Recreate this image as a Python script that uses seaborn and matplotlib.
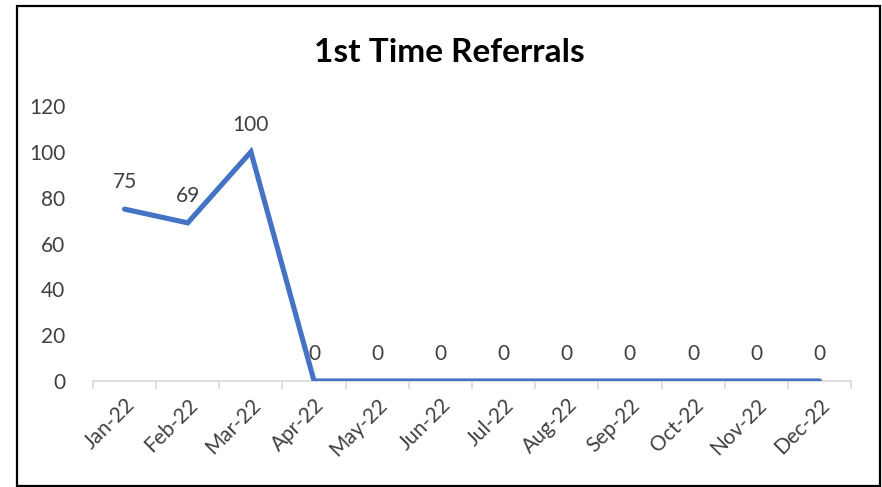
import matplotlib
matplotlib.use('Agg')
import matplotlib.pyplot as plt
from matplotlib.patches import Rectangle
from matplotlib.ticker import FixedLocator
import pandas as pd
import seaborn as sns

months = ['Jan-22', 'Feb-22', 'Mar-22', 'Apr-22', 'May-22', 'Jun-22',
          'Jul-22', 'Aug-22', 'Sep-22', 'Oct-22', 'Nov-22', 'Dec-22']
referrals = [75, 69, 100, 0, 0, 0, 0, 0, 0, 0, 0, 0]
y_ticks = [0, 20, 40, 60, 80, 100, 120]

LINE_BLUE = '#4472C4'
TEXT_GREY = '#404040'

sns.set_theme(style='white')
plt.rcParams['font.family'] = ['Lato', 'DejaVu Sans']

df = pd.DataFrame({'month': months, 'referrals': referrals})

fig = plt.figure(figsize=(8.82, 4.87), dpi=100)
ax = fig.add_axes([0.1054, 0.2177, 0.8595, 0.5646])

sns.lineplot(data=df, x='month', y='referrals', ax=ax, color=LINE_BLUE,
             linewidth=3.7, solid_joinstyle='miter', sort=False)

# data labels above each point
for i, v in enumerate(referrals):
    ax.annotate(str(v), (i, v), xytext=(0, 12), textcoords='offset points',
                ha='center', va='bottom', fontsize=15, color=TEXT_GREY)

ax.set_xlim(-0.5, len(months) - 0.5)
ax.set_ylim(0, 120)
ax.set_yticks(y_ticks)
ax.set_yticklabels([str(t) for t in y_ticks], fontsize=15, color=TEXT_GREY)
ax.set_xticks(range(len(months)))
ax.set_xticklabels(months, rotation=45, ha='right', rotation_mode='anchor',
                   fontsize=15, color=TEXT_GREY)
ax.xaxis.set_minor_locator(FixedLocator([i - 0.5 for i in range(len(months) + 1)]))
ax.tick_params(axis='x', which='major', length=0, pad=10)
ax.tick_params(axis='x', which='minor', length=6, width=1.2, color='#D9D9D9',
               direction='out', bottom=True)
ax.tick_params(axis='y', length=0, pad=20)
ax.set_xlabel('')
ax.set_ylabel('')

for side in ['left', 'right', 'top']:
    ax.spines[side].set_visible(False)
ax.spines['bottom'].set_color('#D9D9D9')
ax.spines['bottom'].set_linewidth(1.2)
ax.spines['bottom'].set_zorder(0)

fig.text(0.51, 0.893, '1st Time Referrals', ha='center', va='center',
         fontsize=24, fontweight='bold', color='black')

# outer chart border
fig.patches.append(Rectangle((17 / 882, 1 / 487), 863 / 882, 480 / 487,
                             transform=fig.transFigure, fill=False,
                             edgecolor='black', linewidth=1.6))

fig.savefig('out.png', dpi=100)
